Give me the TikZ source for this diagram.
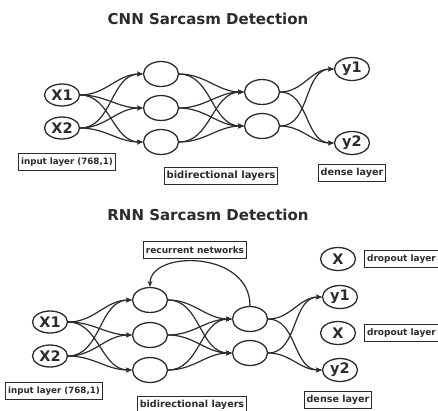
\documentclass[tikz,border=0pt]{standalone}
\usepackage{fontspec}
\setmainfont{DejaVu Sans}
\usetikzlibrary{shapes.geometric,arrows.meta}
\definecolor{ink}{HTML}{2B2B2B}
\newcommand{\bsz}[1]{\bfseries\fontsize{#1}{#1}\selectfont}
\begin{document}
\begin{tikzpicture}[x=1pt,y=-1pt,
  neuron/.style={ellipse,draw=ink,line width=1.3pt,minimum width=35pt,minimum height=25pt,
    inner sep=0pt,text=ink,font=\bsz{14.5}},
  tag/.style={draw=ink,line width=1pt,inner xsep=2.5pt,inner ysep=0pt,minimum height=17pt,
    text=ink,font=\bsz{9}},
  heading/.style={text=ink,font=\bsz{15}},
  conn/.style={draw=ink,line width=1.2pt,-{Stealth[length=6pt,width=5pt]}}]
\useasboundingbox (0,0) rectangle (438,410);

% ---------- CNN ----------
\node[heading] (t1) at (208,19) {CNN Sarcasm Detection};
\node[neuron,minimum height=22pt] (ax1) at (62,95) {X1};
\node[neuron,minimum height=22pt] (ax2) at (62,128) {X2};
\node[neuron] (ah1) at (161,74) {};
\node[neuron] (ah2) at (161,108) {};
\node[neuron] (ah3) at (161,142) {};
\node[neuron] (am1) at (262,92) {};
\node[neuron] (am2) at (262,126) {};
\node[neuron,minimum height=23pt] (ay1) at (352,69) {y1};
\node[neuron,minimum height=23pt] (ay2) at (352,143) {y2};
\node[tag,font=\bsz{8.7}] (ain) at (67,162) {input layer (768,1)};
\node[tag,font=\bsz{10}] (abi) at (221,176) {bidirectional layers};
\node[tag,font=\bsz{9.6}] (ade) at (352,173) {dense layer};

\foreach \s in {ax1,ax2}
  \foreach \t in {ah1,ah2,ah3}
    \draw[conn] (\s.east) to[out=0,in=180] (\t.west);
\foreach \s in {ah1,ah2,ah3}
  \foreach \t in {am1,am2}
    \draw[conn] (\s.east) to[out=0,in=180] (\t.west);
\foreach \s in {am1,am2}
  \foreach \t in {ay1,ay2}
    \draw[conn] (\s.east) to[out=0,in=180] (\t.west);

% ---------- RNN ----------
\node[heading] (t2) at (208,215) {RNN Sarcasm Detection};
\node[neuron,minimum height=22pt] (bx1) at (50,322) {X1};
\node[neuron,minimum height=22pt] (bx2) at (50,356) {X2};
\node[neuron] (bh1) at (150,300) {};
\node[neuron] (bh2) at (150,335) {};
\node[neuron] (bh3) at (150,370) {};
\node[neuron] (bm1) at (250,319) {};
\node[neuron] (bm2) at (250,353) {};
\node[neuron,minimum height=23pt] (by1) at (340,297) {y1};
\node[neuron,minimum height=23pt] (by2) at (340,370) {y2};
\node[neuron,minimum height=23pt] (bd1) at (338,259) {X};
\node[neuron,minimum height=23pt] (bd2) at (338,333) {X};
\node[tag] (bdl1) at (401.5,259) {dropout layer};
\node[tag] (bdl2) at (401.5,333) {dropout layer};
\node[tag] (bre) at (195,250) {recurrent networks};
\node[tag,font=\bsz{8.7}] (bin) at (54,391) {input layer (768,1)};
\node[tag,font=\bsz{9.6}] (bbi) at (192,405) {bidirectional layers};
\node[tag,font=\bsz{9.6}] (bde) at (338,400) {dense layer};

\foreach \s in {bx1,bx2}
  \foreach \t in {bh1,bh2,bh3}
    \draw[conn] (\s.east) to[out=0,in=180] (\t.west);
\foreach \s in {bh1,bh2,bh3}
  \foreach \t in {bm1,bm2}
    \draw[conn] (\s.east) to[out=0,in=180] (\t.west);
\foreach \s in {bm1,bm2}
  \foreach \t in {by1,by2}
    \draw[conn] (\s.east) to[out=0,in=180] (\t.west);
\draw[conn] (bm1.north) .. controls (250,250) and (150,250) .. (bh1.north);
\end{tikzpicture}
\end{document}
